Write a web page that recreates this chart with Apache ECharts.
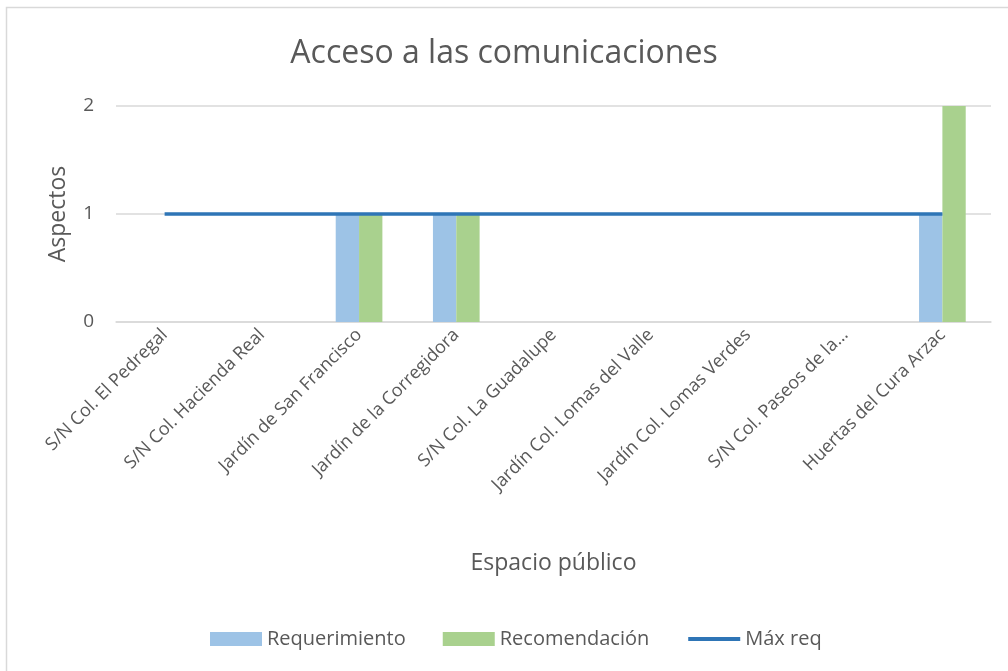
<!DOCTYPE html>
<html>
<head>
<meta charset="utf-8">
<script src="https://cdn.jsdelivr.net/npm/echarts@6/dist/echarts.min.js"></script>
<style>
    html, body { margin: 0; padding: 0; background: #fff; }
    #chart { width: 1008px; height: 671px; }
</style>
</head>
<body>
<div id="chart"></div>
<script>
const categories = [
    "S/N Col. El Pedregal",
    "S/N Col. Hacienda Real",
    "Jardín de San Francisco",
    "Jardín de la Corregidora",
    "S/N Col. La Guadalupe",
    "Jardín Col. Lomas del Valle",
    "Jardín Col. Lomas Verdes",
    "S/N Col. Paseos de la…",
    "Huertas del Cura Arzac",
];
const requerimiento = [0, 0, 1, 1, 0, 0, 0, 0, 1];
const recomendacion = [0, 0, 1, 1, 0, 0, 0, 0, 2];
const maxReq = [1, 1, 1, 1, 1, 1, 1, 1, 1];
const yTicks = { min: 0, max: 2, interval: 1 };

const textColor = "#595959";
const fontFamily = "'Open Sans', sans-serif";

const myChart = echarts.init(document.getElementById("chart"));

const option = {
    backgroundColor: "#fff",
    animation: false,
    textStyle: { fontFamily },
    graphic: [
        {
            // marco del gráfico
            type: "rect",
            shape: { x: 6.5, y: 7.5, width: 1100, height: 700 },
            style: { fill: "none", stroke: "#d9d9d9", lineWidth: 1.5 },
            silent: true,
        },
    ],
    title: {
        text: "Acceso a las comunicaciones",
        left: "center",
        top: 33,
        textStyle: { color: textColor, fontSize: 32, fontWeight: "normal", fontFamily },
    },
    legend: {
        top: 624,
        left: 205,
        itemWidth: 52,
        itemHeight: 14,
        itemGap: 37,
        textStyle: { color: textColor, fontSize: 20, fontFamily },
        data: [
            { name: "Requerimiento", icon: "rect" },
            { name: "Recomendación", icon: "rect" },
            { name: "Máx req", itemStyle: { opacity: 0 }, lineStyle: { width: 4 } },
        ],
    },
    grid: {
        left: 116,
        right: 17,
        top: 106,
        bottom: 349,
    },
    xAxis: {
        type: "category",
        data: categories,
        name: "Espacio público",
        nameLocation: "middle",
        nameGap: 230,
        nameTextStyle: { color: textColor, fontSize: 23, fontFamily },
        axisTick: { show: false },
        axisLine: { lineStyle: { color: "#d9d9d9", width: 1.5 } },
        axisLabel: {
            interval: 0,
            rotate: 45,
            margin: 10,
            color: textColor,
            fontSize: 18,
            fontFamily,
        },
    },
    yAxis: {
        type: "value",
        min: yTicks.min,
        max: yTicks.max,
        interval: yTicks.interval,
        name: "Aspectos",
        nameLocation: "middle",
        nameGap: 46,
        nameRotate: 90,
        nameTextStyle: { color: textColor, fontSize: 23, fontFamily },
        axisLine: { show: false },
        axisTick: { show: false },
        splitLine: { lineStyle: { color: "#d9d9d9", width: 1.5 } },
        axisLabel: { color: textColor, fontSize: 19, margin: 22, fontFamily },
    },
    series: [
        {
            name: "Requerimiento",
            type: "bar",
            data: requerimiento,
            barGap: "0%",
            barCategoryGap: "52%",
            itemStyle: { color: "#9dc3e6" },
        },
        {
            name: "Recomendación",
            type: "bar",
            data: recomendacion,
            itemStyle: { color: "#a9d18e" },
        },
        {
            name: "Máx req",
            type: "line",
            data: maxReq,
            symbol: "none",
            lineStyle: { color: "#2e75b6", width: 3.5 },
            itemStyle: { color: "#2e75b6" },
            z: 5,
        },
    ],
};

myChart.setOption(option);
</script>
</body>
</html>
